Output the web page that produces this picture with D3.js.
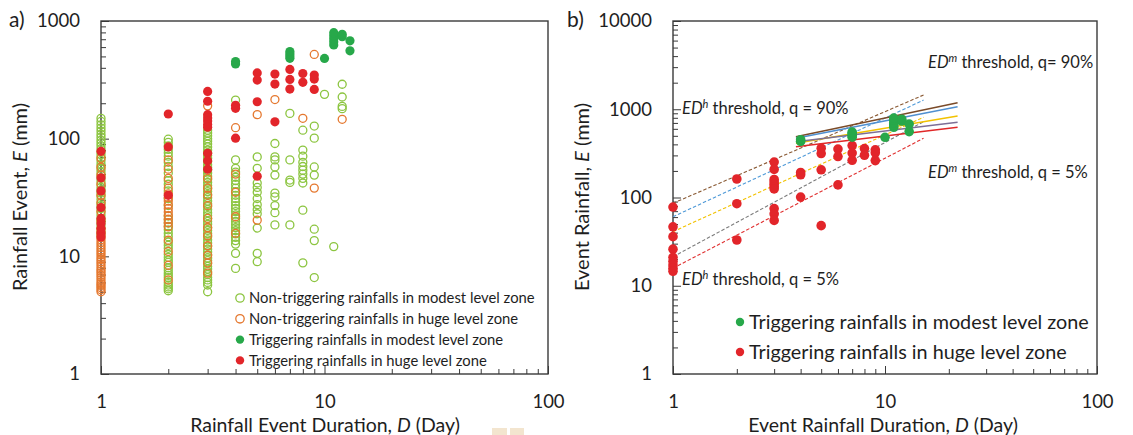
<!DOCTYPE html>
<html>
<head>
<meta charset="utf-8">
<script src="https://cdn.jsdelivr.net/npm/d3@7"></script>
<style>
  body { margin: 0; background: #fff; }
  svg { display: block; }
  text { font-family: Lato, "Open Sans", sans-serif; fill: #1e1e1e; }
</style>
</head>
<body>
<svg id="chart" width="1133" height="435"></svg>
<script>
// ---- Tick labels ----
const durationTicks = [1, 10, 100];
const eventTicksA = [1, 10, 100, 1000];
const eventTicksB = [1, 10, 100, 1000, 10000];

// ---- Rainfall events: [duration D (day), event rainfall E (mm)] ----
// Non-triggering rainfalls, modest level zone
const nonTrigModest = [
  [1,149],[1,140],[1,131],[1,123],[1,116],[1,109],[1,103],[1,97],[1,92],[1,87],[1,82],[1,77],[1,73],[1,69],
  [1,65],[1,61],[1,58],[1,55],[1,52],[1,49],[1,46],[1,43.5],[1,41],[1,38.5],[1,36.5],[1,34.5],[1,32.5],
  [1,30.5],[1,28.5],[1,27],[1,25.5],[1,24],[1,22.5],[1,21],[1,19.8],[1,18.5],[1,17.3],[1,16.2],[1,15.2],
  [2,99],[2,93],[2,87],[2,81],[2,76],[2,71],[2,63],[2,58],[2,51],[2,44],[2,41],[2,36],[2,31],[2,27],[2,22],
  [2,20.5],[2,19.2],[2,18],[2,16.8],[2,15.7],[2,14.7],[2,13.2],[2,12.4],[2,11.7],[2,10.4],[2,9.8],[2,9.3],
  [2,8.9],[2,8],[2,7.6],[2,7.2],[2,6.9],[2,6.6],[2,6],[2,5.7],[2,5.5],[2,5.3],[2,5.1],
  [3,118],[3,112],[3,106],[3,100],[3,95],[3,90],[3,85],[3,80],[3,76],[3,72],[3,68],[3,64],[3,60],[3,57],
  [3,54],[3,51],[3,48],[3,45],[3,42.5],[3,40],[3,37.5],[3,35.5],[3,33.5],[3,31.5],[3,29.5],[3,28],[3,26.5],
  [3,25],[3,23.5],[3,22.2],[3,21],[3,19.8],[3,18.7],[3,17.6],[3,16.6],[3,15.6],[3,14.7],[3,13.8],[3,13],
  [3,12.2],[3,11.5],[3,10.9],[3,10.3],[3,9.7],[3,9.2],[3,8.7],[3,8.2],[3,7.8],[3,7.4],[3,7],[3,6.6],[3,6.3],
  [3,6],[3,5.7],[3,5.0],
  [4,213],[4,66],[4,56],[4,52],[4,47],[4,44],[4,41],[4,38],[4,35.5],[4,33],[4,31],[4,29],[4,27],[4,25.5],
  [4,24],[4,22.5],[4,21],[4,19.8],[4,18.6],[4,17.5],[4,16.5],[4,15.5],[4,14.5],[4,13.6],[4,12.7],[4,10.6],[4,7.9],
  [5,70],[5,56],[5,42],[5,38.5],[5,35],[5,31],[5,27.5],[5,25],[5,23],[5,17.4],[5,10.6],[5,9.0],
  [6,91],[6,70],[6,66],[6,57.5],[6,49],[6,34.5],[6,32],[6,27],[6,23.5],[6,18.5],
  [7,164],[7,66],[7,44.5],[7,42.5],[7,18.5],
  [8,118],[8,80],[8,71],[8,63],[8,58],[8,54],[8,50],[8,46],[8,42],[8,24.7],[8,8.8],
  [9,128],[9,101],[9,57.5],[9,49],[9,17],[9,13.6],[9,6.6],
  [10,238],
  [11,12.1],
  [12,290],[12,226],[12,188],[12,180]
];

// Non-triggering rainfalls, huge level zone
const nonTrigHuge = [
  [1,68],[1,57],[1,49],[1,41],[1,33],[1,28.5],[1,24],[1,20],[1,17.2],[1,16.2],[1,15.3],[1,14.5],[1,13.8],
  [1,13.1],[1,12.5],[1,11.9],[1,11.3],[1,10.8],[1,10.3],[1,9.8],[1,9.4],[1,9.0],[1,8.6],[1,8.2],[1,7.8],
  [1,7.5],[1,7.2],[1,6.9],[1,6.6],[1,6.3],[1,6.0],[1,5.8],[1,5.6],[1,5.4],[1,5.2],[1,5.0],
  [2,66],[2,55],[2,46],[2,38],[2,34],[2,31.5],[2,29.5],[2,27.5],[2,25.5],[2,23.8],[2,22.2],[2,20.7],
  [2,19.3],[2,17.8],[2,13.7],[2,11],[2,8.4],[2,6.3],
  [3,190],[3,46],[3,38],[3,33],[3,27],[3,21],[3,17.5],[3,15],[3,12.3],[3,10.2],[3,8.8],[3,7.2],
  [4,124],[4,50],[4,35],[4,21.7],[4,15.7],
  [5,160],[5,20.3],
  [6,215],
  [8,149],
  [9,520],[9,38],
  [12,146]
];

// Triggering rainfalls, modest level zone
const trigModest = [
  [4,432],[4,452],[7,482],[7,505],[7,528],[7,550],[10,481],
  [11,625],[11,665],[11,705],[11,750],[11,795],[12,735],[12,770],[13,679],[13,558]
];

// Triggering rainfalls, huge level zone
const trigHuge = [
  [1,78],[1,46.5],[1,36],[1,26],[1,21],[1,19],[1,17.2],[1,15.8],[1,14.6],
  [2,162],[2,85],[2,33],
  [3,252],[3,208],[3,160],[3,150],[3,141],[3,132],[3,125],[3,75],[3,65],[3,55],
  [4,192],[4,181],[4,101],
  [5,362],[5,315],[5,206],[5,48],
  [6,354],[6,291],[6,139],
  [7,388],[7,319],[7,264],
  [8,358],[8,301],
  [9,347],[9,321],[9,262]
];

// ED^h thresholds (dashed): end points [D, E]
const thresholdsHuge = [
  { color: "#8a5a34", pts: [[1, 86], [15.2, 1450]] },
  { color: "#4f9ad8", pts: [[1, 60.5], [15.2, 1270]] },
  { color: "#f2c200", pts: [[1, 41], [15.2, 810]] },
  { color: "#7c7c7c", pts: [[1, 21.3], [15.2, 722]] },
  { color: "#e03030", pts: [[1, 15.8], [15.2, 469]] }
];

// ED^m thresholds (solid): end points [D, E]
const thresholdsModest = [
  { color: "#7a4a28", pts: [[3.8, 489], [22, 1186]] },
  { color: "#4f8fd0", pts: [[3.8, 470], [22, 1069]] },
  { color: "#f2c200", pts: [[3.8, 411], [22, 838]] },
  { color: "#7d6f96", pts: [[3.8, 429], [22, 711]] },
  { color: "#e02828", pts: [[3.8, 377], [22, 624]] }
];

const legendA = [
  { label: "Non-triggering rainfalls in modest level zone", kind: "open", color: "#8cc540" },
  { label: "Non-triggering rainfalls in huge level zone", kind: "open", color: "#e5782f" },
  { label: "Triggering rainfalls in modest level zone", kind: "fill", color: "#27a84a" },
  { label: "Triggering rainfalls in huge level zone", kind: "fill", color: "#e2252a" }
];
const legendB = [
  { label: "Triggering rainfalls in modest level zone", color: "#27a84a" },
  { label: "Triggering rainfalls in huge level zone", color: "#e2252a" }
];

const COL = {
  openModest: "#8cc540", openHuge: "#e5782f", fillModest: "#27a84a", fillHuge: "#e2252a", axis: "#3a3a3a"
};

const svg = d3.select("#chart");

// ---- Scales ----
const xA = d3.scaleLog().domain([1, 100]).range([101, 548]);
const yA = d3.scaleLog().domain([1, 1000]).range([374, 21]);
const xB = d3.scaleLog().domain([1, 100]).range([673, 1097]);
const yB = d3.scaleLog().domain([1, 10000]).range([374, 21]);

function drawFrame(x, y, xLabels, yLabels) {
  const g = svg.append("g");
  const [x0, x1] = x.range();
  const [y0, y1] = y.range();

  const ax = d3.axisBottom(x)
    .tickValues(x.ticks())
    .tickFormat(d => xLabels.includes(d) ? d : "")
    .tickSizeInner(-5).tickSizeOuter(0).tickPadding(21);
  const gx = g.append("g").attr("transform", `translate(0,${y0})`).call(ax);
  gx.select(".domain").remove();
  gx.selectAll(".tick line").attr("y2", d => xLabels.includes(d) ? -8 : -5)
    .attr("stroke", COL.axis).attr("stroke-width", 1);
  gx.selectAll(".tick text").attr("font-family", "Lato, sans-serif").attr("font-size", 18.5).attr("fill", "#1e1e1e");

  const ay = d3.axisLeft(y)
    .tickValues(y.ticks())
    .tickFormat(d => yLabels.includes(d) ? d : "")
    .tickSizeInner(-5).tickSizeOuter(0).tickPadding(21);
  const gy = g.append("g").attr("transform", `translate(${x0},0)`).call(ay);
  gy.select(".domain").remove();
  gy.selectAll(".tick line").attr("x2", d => yLabels.includes(d) ? 8 : 5)
    .attr("stroke", COL.axis).attr("stroke-width", 1);
  gy.selectAll(".tick text").attr("font-family", "Lato, sans-serif").attr("font-size", 18.5).attr("fill", "#1e1e1e");

  g.append("rect")
    .attr("x", x0).attr("y", y1).attr("width", x1 - x0).attr("height", y0 - y1)
    .attr("fill", "none").attr("stroke", COL.axis).attr("stroke-width", 1.4);
}

drawFrame(xA, yA, durationTicks, eventTicksA);
drawFrame(xB, yB, durationTicks, eventTicksB);

// ---- Panel a: all rainfall events ----
const pa = svg.append("g");
pa.selectAll("circle.ntm").data(nonTrigModest).join("circle")
  .attr("cx", d => xA(d[0])).attr("cy", d => yA(d[1])).attr("r", 4)
  .attr("fill", "none").attr("stroke", COL.openModest).attr("stroke-width", 1.3);
pa.selectAll("circle.nth").data(nonTrigHuge).join("circle")
  .attr("cx", d => xA(d[0])).attr("cy", d => yA(d[1])).attr("r", 4)
  .attr("fill", "none").attr("stroke", COL.openHuge).attr("stroke-width", 1.3);
pa.selectAll("circle.tm").data(trigModest).join("circle")
  .attr("cx", d => xA(d[0])).attr("cy", d => yA(d[1])).attr("r", 4.6)
  .attr("fill", COL.fillModest);
pa.selectAll("circle.th").data(trigHuge).join("circle")
  .attr("cx", d => xA(d[0])).attr("cy", d => yA(d[1])).attr("r", 4.6)
  .attr("fill", COL.fillHuge);

// ---- Panel b: triggering events with ED thresholds ----
const pb = svg.append("g");
const lineB = d3.line().x(d => xB(d[0])).y(d => yB(d[1]));
pb.selectAll("path.th").data(thresholdsHuge).join("path")
  .attr("d", d => lineB(d.pts)).attr("fill", "none")
  .attr("stroke", d => d.color).attr("stroke-width", 1.1).attr("stroke-dasharray", "3.5,2");
pb.selectAll("path.tm").data(thresholdsModest).join("path")
  .attr("d", d => lineB(d.pts)).attr("fill", "none")
  .attr("stroke", d => d.color).attr("stroke-width", 1.5);
pb.selectAll("circle.th").data(trigHuge).join("circle")
  .attr("cx", d => xB(d[0])).attr("cy", d => yB(d[1])).attr("r", 4.8)
  .attr("fill", COL.fillHuge);
pb.selectAll("circle.tm").data(trigModest).join("circle")
  .attr("cx", d => xB(d[0])).attr("cy", d => yB(d[1])).attr("r", 4.8)
  .attr("fill", COL.fillModest);

// ---- Legends ----
const lgA = svg.append("g");
legendA.forEach((item, i) => {
  const cy = 298 + i * 20.8;
  const c = lgA.append("circle").attr("cx", 240).attr("cy", cy).attr("r", 4.2);
  if (item.kind === "open") c.attr("fill", "none").attr("stroke", item.color).attr("stroke-width", 1.3);
  else c.attr("fill", item.color);
  lgA.append("text").attr("x", 249).attr("y", cy).attr("dy", "0.35em")
    .attr("font-size", 14.8).text(item.label);
});

const lgB = svg.append("g");
legendB.forEach((item, i) => {
  const cy = 322 + i * 30;
  lgB.append("circle").attr("cx", 740).attr("cy", cy).attr("r", 4.2).attr("fill", item.color);
  lgB.append("text").attr("x", 749).attr("y", cy).attr("dy", "0.35em")
    .attr("font-size", 19.8).text(item.label);
});

// ---- Threshold annotations ----
function edLabel(x, y, sup, rest) {
  const t = svg.append("text").attr("x", x).attr("y", y).attr("font-size", 16.5);
  t.append("tspan").attr("font-style", "italic").text("ED");
  t.append("tspan").attr("font-style", "italic").attr("font-size", 11).attr("dy", -6).text(sup);
  t.append("tspan").attr("dy", 6).text(rest);
}
edLabel(682, 114, "h", " threshold, q = 90%");
edLabel(928, 68, "m", " threshold, q= 90%");
edLabel(928, 178, "m", " threshold, q = 5%");
edLabel(682, 285, "h", " threshold, q = 5%");

// ---- Axis titles ----
function titleX(cx, parts) {
  const t = svg.append("text").attr("x", cx).attr("y", 432).attr("text-anchor", "middle").attr("font-size", 19.5);
  parts.forEach(p => t.append("tspan").attr("font-style", p[1] ? "italic" : null).text(p[0]));
}
function titleY(cx, cy, parts) {
  const t = svg.append("text").attr("transform", `translate(${cx},${cy}) rotate(-90)`)
    .attr("text-anchor", "middle").attr("font-size", 20);
  parts.forEach(p => t.append("tspan").attr("font-style", p[1] ? "italic" : null).text(p[0]));
}
titleX(325, [["Rainfall Event Duration, "], ["D", true], [" (Day)"]]);
titleX(883, [["Event Rainfall Duration, "], ["D", true], [" (Day)"]]);
titleY(27, 197, [["Rainfall Event, "], ["E", true], [" (mm)"]]);
titleY(589, 197, [["Event Rainfall, "], ["E", true], [" (mm)"]]);

// ---- Panel letters ----
svg.append("text").attr("x", 9).attr("y", 27).attr("font-family", "'Liberation Serif', serif")
  .attr("font-size", 21).text("a)");
svg.append("text").attr("x", 567).attr("y", 27).attr("font-family", "'Liberation Serif', serif")
  .attr("font-size", 21).text("b)");

// small beige marks below the left panel
svg.append("rect").attr("x", 492).attr("y", 428).attr("width", 15).attr("height", 7).attr("fill", "#f3e5cf");
svg.append("rect").attr("x", 510).attr("y", 428).attr("width", 14).attr("height", 7).attr("fill", "#f3e5cf");
</script>
</body>
</html>
